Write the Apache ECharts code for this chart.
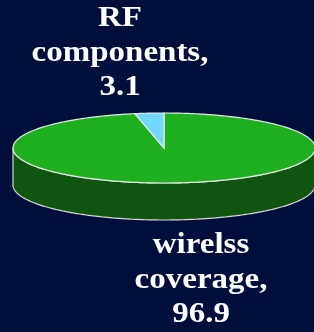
<!DOCTYPE html>
<html>
<head>
<meta charset="utf-8">
<script src="https://cdn.jsdelivr.net/npm/echarts@6/dist/echarts.min.js"></script>
<style>
  html, body { margin: 0; padding: 0; background: #000e3c; }
  #main { width: 314px; height: 332px; }
</style>
</head>
<body>
<div id="main"></div>
<script>
// 数据
var names = ['wirelss coverage', 'RF components'];
var labels = ['wirelss\ncoverage,\n96.9', 'RF\ncomponents,\n3.1'];
var values = [96.9, 3.1];

// 颜色 / 布局
var topColors = ['#1fb01f', '#72d8ff'];
var sideColors = ['#10550f', '#3a8aa8'];
var labelPos = [[201, 228], [120, 1]];
var geo = { cx: 164, cy: 148, rx: 151, ry: 35, depth: 37 };

var total = values.reduce(function(a, b){ return a + b; }, 0);
var starts = [], acc = 0;
values.forEach(function(v){ starts.push(acc / total * 360); acc += v; });

function pt(deg, dy){
  var r = deg * Math.PI / 180;
  return [geo.cx + geo.rx * Math.sin(r), geo.cy - geo.ry * Math.cos(r) + (dy || 0)];
}

function arc(a, b, dy){
  var out = [], step = 1;
  if (a <= b) {
    for (var d = a; d < b; d += step) out.push(pt(d, dy));
  } else {
    for (var d = a; d > b; d -= step) out.push(pt(d, dy));
  }
  out.push(pt(b, dy));
  return out;
}

var chart = echarts.init(document.getElementById('main'));

chart.setOption({
  backgroundColor: '#000e3c',
  animation: false,
  series: [{
    type: 'custom',
    coordinateSystem: 'none',
    data: values.map(function(v, i){ return { name: names[i], value: [v, i] }; }),
    renderItem: function(params, api){
      var i = api.value(1);
      var a = starts[i];
      var b = a + api.value(0) / total * 360;
      var children = [];

      // 侧面 (只画前半部分)
      var fa = Math.max(a, 90), fb = Math.min(b, 270);
      if (fa < fb) {
        var side = arc(fa, fb, 0).concat(arc(fb, fa, geo.depth));
        children.push({
          type: 'polygon', z2: 1,
          shape: { points: side },
          style: { fill: sideColors[i], stroke: '#d8d8d8', lineWidth: 1.2 }
        });
      }

      // 顶面
      var top = [[geo.cx, geo.cy]].concat(arc(a, b, 0));
      children.push({
        type: 'polygon', z2: 5,
        shape: { points: top },
        style: { fill: topColors[i], stroke: '#e8e8e8', lineWidth: 1.2 }
      });

      // 标签
      children.push({
        type: 'text', z2: 10,
        x: labelPos[i][0], y: labelPos[i][1],
        scaleX: 1.1,
        style: {
          text: labels[i],
          fill: '#ffffff',
          font: 'bold 30px "Liberation Serif", "Times New Roman", serif',
          align: 'center',
          verticalAlign: 'top',
          lineHeight: 34.5
        }
      });

      return { type: 'group', children: children };
    }
  }]
});
</script>
</body>
</html>
